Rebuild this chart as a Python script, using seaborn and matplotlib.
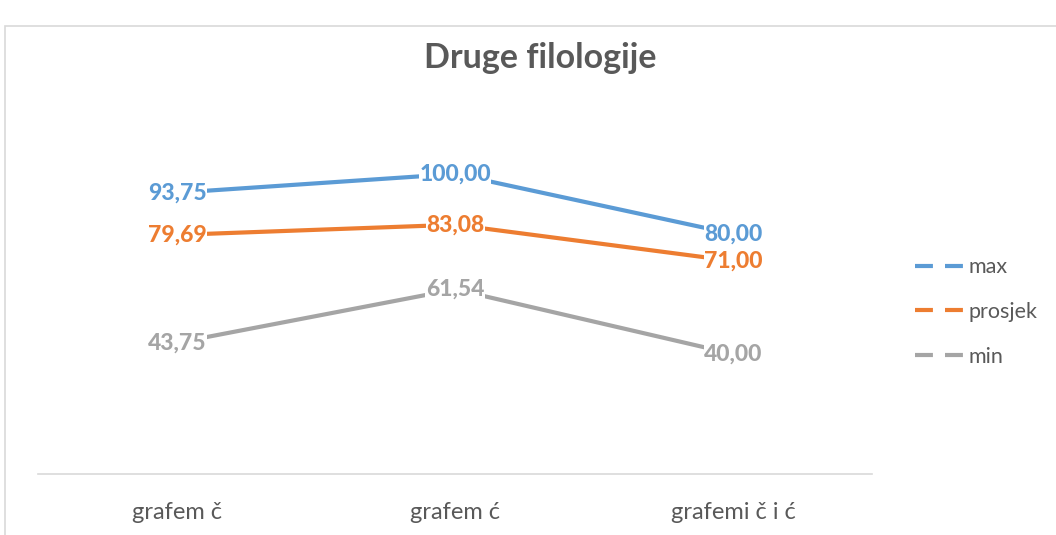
import pandas as pd
import seaborn as sns
import matplotlib.pyplot as plt
from matplotlib.lines import Line2D
from matplotlib.patches import Rectangle

categories = ['grafem č', 'grafem ć', 'grafemi č i ć']
max_vals = [93.75, 100.00, 80.00]
avg_vals = [79.69, 83.08, 71.00]
min_vals = [43.75, 61.54, 40.00]
series = ['max', 'prosjek', 'min']
colors = ['#5B9BD5', '#ED7D31', '#A5A5A5']

df = pd.DataFrame({
    'kat': categories * 3,
    'x': [0, 1, 2] * 3,
    'val': max_vals + avg_vals + min_vals,
    'serija': [s for s in series for _ in range(3)],
})

sns.set_style('white')
plt.rcParams['font.family'] = ['Lato', 'DejaVu Sans']

fig = plt.figure(figsize=(10.56, 5.35), dpi=100)
ax = fig.add_axes([0.036, 0.114, 0.79, 0.673])

# chart border (cropped)
fig.patches.append(Rectangle((5 / 1056, -0.1), 1.2, 1.076 - 13 / 535,
                             transform=fig.transFigure, fill=False,
                             edgecolor='#D9D9D9', linewidth=1.2))

sns.lineplot(data=df, x='x', y='val', hue='serija', palette=colors,
             linewidth=3, ax=ax, legend=False, sort=False)

for s, c in zip(series, colors):
    sub = df[df['serija'] == s]
    for xv, yv in zip(sub['x'], sub['val']):
        ax.text(xv, yv, f'{yv:.2f}'.replace('.', ','), color=c,
                fontsize=16.5, fontweight='black', ha='center', va='center',
                zorder=5,
                bbox=dict(facecolor='white', edgecolor='none', pad=0.3))

ax.set_xlim(-0.5, 2.5)
ax.set_ylim(0, 120)
ax.set_xticks([0, 1, 2])
ax.set_xticklabels(categories, fontsize=17, color='#595959')
ax.tick_params(axis='x', length=0, pad=20)
ax.set_yticks([])
ax.set_xlabel('')
ax.set_ylabel('')
for sp in ['top', 'right', 'left']:
    ax.spines[sp].set_visible(False)
ax.spines['bottom'].set_color('#D9D9D9')
ax.spines['bottom'].set_linewidth(1.2)

fig.text(540 / 1056, 1 - 58 / 535, 'Druge filologije', fontsize=24.5,
         fontweight='bold', color='#595959', ha='center', va='center')

handles = [Line2D([0], [0], color=c, linewidth=3, linestyle=(0, (4.3, 2.9)))
           for c in colors]
fig.legend(handles, series, loc='center left',
           bbox_to_anchor=(896 / 1056, 1 - 312 / 535), frameon=False,
           fontsize=15.5, labelcolor='#595959', handlelength=2.35,
           handletextpad=0.1, labelspacing=1.15)

fig.savefig('out.png', dpi=100, facecolor='white')
